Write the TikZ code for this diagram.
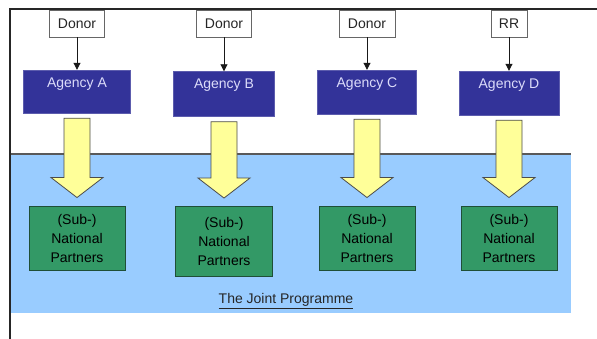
\documentclass[tikz,border=0pt]{standalone}
\usepackage{fontspec}
\setmainfont{Liberation Sans}
\usepackage{xcolor}
\definecolor{cagency}{HTML}{333399}
\definecolor{cagtext}{HTML}{DCDCFA}
\definecolor{cpartner}{HTML}{339966}
\definecolor{cpartedge}{HTML}{1F4F37}
\definecolor{cflow}{HTML}{FFFF99}
\definecolor{cjoint}{HTML}{99CCFF}
\usepackage{tikz}
\usetikzlibrary{arrows.meta, positioning, calc}

% flecha amarilla: de la agencia al socio nacional
\newcommand{\flecha}[2]{%
  \draw[flow] ($(#1.south)+(-13,5)$) -- ($(#1.south)+(13,5)$)
    -- ($(#2.north)+(13,-28)$) -- ($(#2.north)+(26,-28)$)
    -- ($(#2.north)+(0,-8)$) -- ($(#2.north)+(-26,-28)$)
    -- ($(#2.north)+(-13,-28)$) -- cycle;}

\begin{document}
\begin{tikzpicture}[x=1pt, y=-1pt,
  font=\fontsize{14}{19}\selectfont,
  donorbox/.style={draw=black!60, fill=white, text=black!85, minimum width=55pt, minimum height=27pt, inner sep=0pt},
  agencybox/.style={draw=cagency!80!white, fill=cagency, minimum width=100pt, minimum height=44pt, inner sep=0pt},
  agtext/.style={anchor=north, yshift=-7.5pt, inner sep=0pt, text=cagtext},
  partnerbox/.style={draw=cpartedge, line width=0.9pt, fill=cpartner, minimum width=96pt, minimum height=64pt, align=center, inner sep=0pt},
  flow/.style={draw=black!70, line width=0.8pt, fill=cflow, line join=miter},
  feed/.style={-{Triangle[width=7pt,length=7pt]}, line width=0.9pt, black!90}
]
  \useasboundingbox (0,0) rectangle (597,339);

  % Zona del programa conjunto
  \fill[cjoint] (11,154) rectangle (571,313);
  \draw[black!65, line width=1.2pt] (11,154) -- (571,154);
  % Marco
  \draw[black!85, line width=1.6pt] (10,339) -- (10,9) -- (597,9);

  % Agencias
  \node[agencybox, minimum width=107pt, minimum height=43pt,
        label={[agtext]north:Agency A}] (agA) at (77,91.5) {};
  \node[agencybox, minimum width=101pt, minimum height=45pt,
        label={[agtext]north:Agency B}] (agB) at (224,94) {};
  \node[agencybox, minimum width=99pt,
        label={[agtext]north:Agency C}] (agC) at (367,92) {};
  \node[agencybox,
        label={[agtext]north:Agency D}] (agD) at (509,93) {};

  % Donantes
  \node[donorbox] (donA) at (77,23.5) {Donor};
  \node[donorbox] (donB) at (224,23.5) {Donor};
  \node[donorbox, minimum width=56pt] (donC) at (367,23.5) {Donor};
  \node[donorbox, minimum width=36pt] (donD) at (509,23.5) {RR};

  \draw[feed] (donA) -- (agA);
  \draw[feed] (donB) -- (agB);
  \draw[feed] (donC) -- (agC);
  \draw[feed] (donD) -- (agD);

  % Socios nacionales
  \node[partnerbox] (parA) at (77,238) {(Sub-)\\National\\Partners};
  \node[partnerbox, minimum width=97pt, minimum height=70pt] (parB) at (224,241.5) {(Sub-)\\National\\Partners};
  \node[partnerbox] (parC) at (367,238) {(Sub-)\\National\\Partners};
  \node[partnerbox] (parD) at (509,238) {(Sub-)\\National\\Partners};

  \flecha{agA}{parA}
  \flecha{agB}{parB}
  \flecha{agC}{parC}
  \flecha{agD}{parD}

  \node[text=black!85] (joint) at (286,301) {\underline{The Joint Programme}};
\end{tikzpicture}
\end{document}
